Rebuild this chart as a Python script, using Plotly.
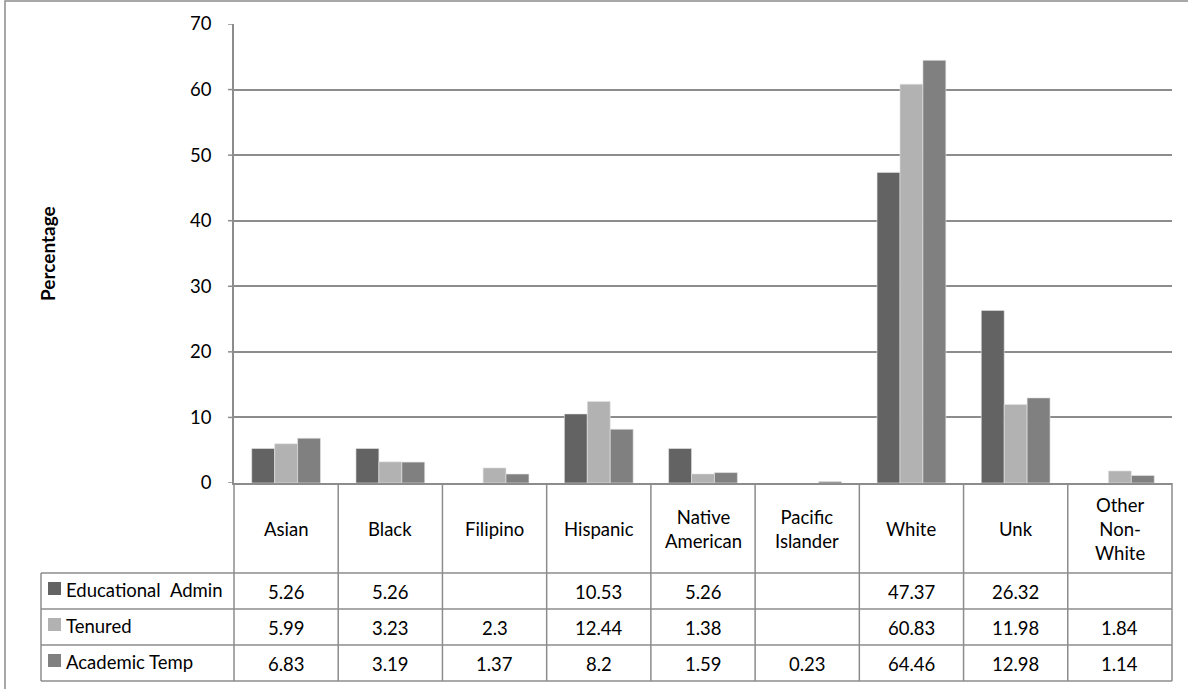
import plotly.graph_objects as go

# Faculty ethnicity breakdown by employment type (percent)
categories = ["Asian", "Black", "Filipino", "Hispanic", "Native American",
              "Pacific Islander", "White", "Unk", "Other Non-White"]
header_labels = ["Asian", "Black", "Filipino", "Hispanic", "Native<br>American",
                 "Pacific<br>Islander", "White", "Unk", "Other<br>Non-<br>White"]
series_names = ["Educational Admin", "Tenured", "Academic Temp"]
educational_admin = [5.26, 5.26, None, 10.53, 5.26, None, 47.37, 26.32, None]
tenured = [5.99, 3.23, 2.3, 12.44, 1.38, None, 60.83, 11.98, 1.84]
academic_temp = [6.83, 3.19, 1.37, 8.2, 1.59, 0.23, 64.46, 12.98, 1.14]
y_ticks = [0, 10, 20, 30, 40, 50, 60, 70]

series_values = [educational_admin, tenured, academic_temp]
colors = ["#636363", "#b2b2b2", "#808080"]

W, H = 1188, 689
FONT = "Lato, 'Open Sans', sans-serif"
FS = 18.5
LINE = "#8c8c8c"

# plot area in pixels
PX0, PX1 = 234, 1172
PY_TOP, PY_BOT = 24, 483
# table geometry in pixels
HEADER_BOT = 573
ROW_LINES = [573, 609, 645, 681]
LEG_X0 = 41


def fx(px):
    return px / W


def fy(py):
    return 1 - py / H


fig = go.Figure()
for name, vals, col in zip(series_names, series_values, colors):
    fig.add_trace(go.Bar(
        x=categories, y=vals, name=name, marker_color=col,
        marker_line=dict(color="#e6e6e6", width=0.6),
        showlegend=False, hoverinfo="x+y+name",
    ))

shapes = []
annotations = []

# outer chart frame
shapes.append(dict(type="rect", xref="paper", yref="paper",
                   x0=fx(5), x1=fx(1195), y0=fy(700), y1=fy(1),
                   line=dict(color=LINE, width=1.5), fillcolor="rgba(0,0,0,0)"))

n = len(categories)
col_w = (PX1 - PX0) / n
col_edges = [PX0 + i * col_w for i in range(n + 1)]

# vertical column lines of data table
for xe in col_edges:
    shapes.append(dict(type="line", xref="paper", yref="paper",
                       x0=fx(xe), x1=fx(xe), y0=fy(PY_BOT), y1=fy(ROW_LINES[-1]),
                       line=dict(color=LINE, width=1.5)))
# horizontal row lines
for yr in ROW_LINES:
    shapes.append(dict(type="line", xref="paper", yref="paper",
                       x0=fx(LEG_X0), x1=fx(PX1), y0=fy(yr), y1=fy(yr),
                       line=dict(color=LINE, width=1.5)))
# left edge of legend column
shapes.append(dict(type="line", xref="paper", yref="paper",
                   x0=fx(LEG_X0), x1=fx(LEG_X0), y0=fy(ROW_LINES[0]), y1=fy(ROW_LINES[-1]),
                   line=dict(color=LINE, width=1.5)))
# y-axis tick marks
for t in y_ticks:
    shapes.append(dict(type="line", xref="paper", yref="y",
                       x0=fx(PX0 - 6), x1=fx(PX0), y0=t, y1=t,
                       line=dict(color=LINE, width=1.5)))

# header labels
for i, lab in enumerate(header_labels):
    xc = (col_edges[i] + col_edges[i + 1]) / 2
    annotations.append(dict(xref="paper", yref="paper", x=fx(xc), y=fy(529),
                            text=lab, showarrow=False, xanchor="center", yanchor="middle",
                            font=dict(family=FONT, size=FS, color="#000000")))

# data rows with legend keys
for r, (name, vals, col) in enumerate(zip(series_names, series_values, colors)):
    y0, y1 = ROW_LINES[r], ROW_LINES[r + 1]
    yc = (y0 + y1) / 2
    shapes.append(dict(type="rect", xref="paper", yref="paper",
                       x0=fx(48), x1=fx(61), y0=fy(yc + 4), y1=fy(yc - 9),
                       fillcolor=col, line=dict(width=0)))
    annotations.append(dict(xref="paper", yref="paper", x=fx(64), y=fy(yc - 1),
                            text=name.replace(" ", "\u2002") if r == 0 else name,
                            showarrow=False, xanchor="left", yanchor="middle",
                            font=dict(family=FONT, size=FS, color="#000000")))
    for i, v in enumerate(vals):
        if v is None:
            continue
        xc = (col_edges[i] + col_edges[i + 1]) / 2
        annotations.append(dict(xref="paper", yref="paper", x=fx(xc), y=fy(yc + 1),
                                text=f"{v:g}", showarrow=False, xanchor="center", yanchor="middle",
                                font=dict(family=FONT, size=FS, color="#000000")))

# y-axis title
annotations.append(dict(xref="paper", yref="paper", x=fx(47), y=fy(254),
                        text="<b>Percentage</b>", showarrow=False, textangle=-90,
                        xanchor="center", yanchor="middle",
                        font=dict(family=FONT, size=19, color="#000000")))

fig.update_layout(
    width=W, height=H,
    margin=dict(l=0, r=0, t=0, b=0, autoexpand=False),
    paper_bgcolor="white", plot_bgcolor="white",
    barmode="group", bargap=0.34, bargroupgap=0.0,
    font=dict(family=FONT, size=FS, color="#000000"),
    xaxis=dict(domain=[fx(PX0), fx(PX1)], showticklabels=False, ticks="",
               showgrid=False, showline=True, linecolor=LINE, linewidth=1.5,
               zeroline=False, fixedrange=True, automargin=False),
    yaxis=dict(domain=[fy(PY_BOT), fy(PY_TOP)], range=[0, 70], tickvals=y_ticks,
               showgrid=True, gridcolor=LINE, gridwidth=1.5, zeroline=False,
               showline=True, linecolor=LINE, linewidth=1.5, ticks="",
               ticklabelstandoff=17, tickfont=dict(family=FONT, size=18.5),
               fixedrange=True, automargin=False),
    shapes=shapes, annotations=annotations,
)

fig.write_html("out.html",
               post_script="document.body.style.margin='0';document.body.style.overflow='hidden';")
